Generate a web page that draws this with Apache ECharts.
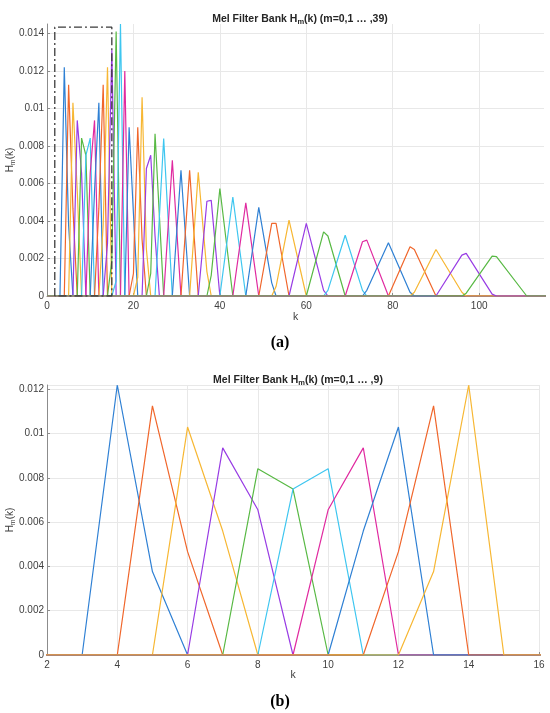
<!DOCTYPE html>
<html>
<head>
<meta charset="utf-8">
<script src="https://cdn.jsdelivr.net/npm/echarts@6/dist/echarts.min.js"></script>
<style>
html,body{margin:0;padding:0;background:#fff;}
#c{width:550px;height:713px;}
</style>
</head>
<body>
<div id="c"></div>
<script>
// ---- data ----
const kFirst = 0;          // first FFT bin drawn
const kLast = 128;         // last FFT bin drawn
const palette = ['#2f80d4', '#f0662b', '#f7b733', '#983ce4', '#58b944', '#3ec6f0', '#e02aa0'];
// vertices [k, H_m(k)] of each filter m = 0..39 (zero elsewhere)
const melVertices = [
  [[3,0],[4,0.0122],[5,0.00377],[6,0]],
  [[4,0],[5,0.01126],[6,0.00467],[7,0]],
  [[5,0],[6,0.0103],[7,0.0056],[8,0]],
  [[6,0],[7,0.00936],[8,0.00656],[9,0]],
  [[7,0],[8,0.00842],[9,0.0075],[10,0]],
  [[8,0],[9,0.0075],[10,0.00842],[11,0]],
  [[9,0],[10,0.00656],[11,0.00936],[12,0]],
  [[10,0],[11,0.0056],[12,0.0103],[13,0]],
  [[11,0],[12,0.00467],[13,0.01126],[14,0]],
  [[12,0],[13,0.00377],[14,0.0122],[15,0]],
  [[13,0],[14,0.0028],[15,0.0131],[16,0]],
  [[14,0],[15,0.0019],[16,0.0141],[17,0]],
  [[15,0],[16,0.0008],[17,0.0145],[18,0]],
  [[17,0],[18,0.012],[19,0]],
  [[18,0],[19,0.009],[20,0.0044],[21,0]],
  [[19,0],[20,0.0012],[21,0.009],[22,0.003],[23,0]],
  [[20,0],[21,0.001],[22,0.0106],[23,0.0025],[24,0]],
  [[22,0],[23,0.0068],[24,0.0075],[25,0.0032],[26,0]],
  [[23,0],[24,0.0012],[25,0.00865],[26,0.0043],[27,0]],
  [[25,0],[26,0.0042],[27,0.0084],[28,0.0042],[29,0]],
  [[27,0],[28,0.0036],[29,0.00723],[30,0.0036],[31,0]],
  [[29,0],[31,0.0067],[33,0]],
  [[31,0],[33,0.0067],[35,0]],
  [[33,0],[35,0.0066],[37,0.0013],[38,0]],
  [[35,0],[37,0.00505],[38,0.0051],[40,0]],
  [[37,0],[38,0.0011],[40,0.00573],[43,0]],
  [[40,0],[43,0.00528],[46,0]],
  [[43,0],[46,0.00496],[49,0]],
  [[46,0],[49,0.00472],[52,0.0007],[53,0]],
  [[49,0],[52,0.00387],[53,0.00387],[56,0]],
  [[52,0],[53,0.0005],[56,0.00404],[60,0]],
  [[56,0],[60,0.00387],[64,0.0003],[65,0]],
  [[60,0],[64,0.00342],[65,0.0032],[69,0]],
  [[64,0],[65,0.0003],[69,0.00324],[73,0.0003],[74,0]],
  [[69,0],[73,0.00289],[74,0.00298],[79,0]],
  [[73,0],[74,0.0003],[79,0.00284],[84,0.0002],[85,0]],
  [[79,0],[84,0.00262],[85,0.00248],[90,0]],
  [[84,0],[85,0.0002],[90,0.00248],[96,0.0002],[97,0]],
  [[90,0],[96,0.00218],[97,0.00227],[103,0.0001],[104,0]],
  [[96,0],[97,0.00015],[103,0.00213],[104,0.0021],[111,0]]
];
const zoomedCount = 10;                       // filters shown in (b)
const zoomBox = [[1.8,0],[1.8,0.01433],[15,0.01433],[15,0],[1.8,0]];
const titleTop = 'Mel Filter Bank H_m(k) (m=0,1 … ,39)';
const titleBottom = 'Mel Filter Bank H_m(k) (m=0,1 … ,9)';

// ---- chart ----
const FONT = 'Liberation Sans, Arial, sans-serif';
const SERIF = 'Liberation Serif, DejaVu Serif, serif';
function richTitle(t){
  const p = t.split('_m');
  return '{b|' + p[0] + '}{s|m}{b|' + p[1] + '}';
}
const titleRich = {
  b:{fontFamily:FONT,fontSize:10.5,fontWeight:'bold',color:'#262626',lineHeight:14},
  s:{fontFamily:FONT,fontSize:7.5,fontWeight:'bold',color:'#262626',lineHeight:8,verticalAlign:'bottom'}
};
const nameRich = {
  b:{fontFamily:FONT,fontSize:10,color:'#404040',lineHeight:14},
  s:{fontFamily:FONT,fontSize:7,color:'#404040',lineHeight:8,verticalAlign:'bottom'}
};
const axisCol = '#8c8c8c';
function xAx(gi,min,max,interval,gap){
  return {gridIndex:gi,type:'value',min:min,max:max,interval:interval,
    name:'k',nameLocation:'middle',nameGap:gap,nameMoveOverlap:false,
    nameTextStyle:{fontFamily:FONT,fontSize:10.5,color:'#404040'},
    axisLine:{show:true,onZero:false,lineStyle:{color:axisCol,width:1}},
    axisTick:{show:true,inside:true,length:3,lineStyle:{color:axisCol}},
    axisLabel:{margin:5,showMaxLabel:gi===1,color:'#404040',fontSize:10,fontFamily:FONT},
    splitLine:{show:true,showMaxLine:gi===1,lineStyle:{color:'#e8e8e8',width:1}}};
}
function yAx(gi,max){
  return {gridIndex:gi,type:'value',min:0,max:max,interval:0.002,
    name:'{b|H}{s|m}{b|(k)}',nameLocation:'middle',nameGap:30,nameMoveOverlap:false,
    nameTextStyle:{rich:nameRich},
    axisLine:{show:true,lineStyle:{color:axisCol,width:1}},
    axisTick:{show:true,inside:true,length:3,lineStyle:{color:axisCol}},
    axisLabel:{margin:3,showMaxLabel:false,color:'#404040',fontSize:10,fontFamily:FONT},
    splitLine:{show:true,showMaxLine:gi===1,lineStyle:{color:'#e8e8e8',width:1}}};
}
const series = [];
function addFilter(m, gi){
  series.push({type:'line',xAxisIndex:gi,yAxisIndex:gi,
    data:[[kFirst,0]].concat(melVertices[m]).concat([[kLast,0]]),
    showSymbol:false,symbol:'none',silent:true,animation:false,
    lineStyle:{color:palette[m % palette.length],width:1.2},
    itemStyle:{color:palette[m % palette.length]},z:2});
}
for(let m=0;m<melVertices.length;m++) addFilter(m,0);
for(let m=0;m<zoomedCount;m++) addFilter(m,1);
series.push({type:'line',xAxisIndex:0,yAxisIndex:0,data:zoomBox,showSymbol:false,symbol:'none',
  silent:true,animation:false,z:5,
  lineStyle:{color:'#3a3a3a',width:1.3,type:[8,3,2,3]}});

const chart = echarts.init(document.getElementById('c'),null,{renderer:'canvas'});
chart.setOption({
  animation:false,
  backgroundColor:'#ffffff',
  title:[
    {text:richTitle(titleTop),left:295,top:7,textAlign:'center',textStyle:{rich:titleRich}},
    {text:richTitle(titleBottom),left:293,top:368,textAlign:'center',textStyle:{rich:titleRich}},
    {text:'{p|(}{l|a}{p|)}',left:275,top:330,textAlign:'center',
      textStyle:{rich:{p:{fontFamily:SERIF,fontSize:16,color:'#000'},l:{fontFamily:SERIF,fontSize:16,fontWeight:'bold',color:'#000'}}}},
    {text:'{p|(}{l|b}{p|)}',left:275,top:689,textAlign:'center',
      textStyle:{rich:{p:{fontFamily:SERIF,fontSize:16,color:'#000'},l:{fontFamily:SERIF,fontSize:16,fontWeight:'bold',color:'#000'}}}}
  ],
  grid:[
    {left:47,top:24,width:497,height:272,containLabel:false,outerBoundsMode:'none'},
    {left:47,top:385,width:492,height:270,containLabel:false,outerBoundsMode:'none'}
  ],
  xAxis:[xAx(0,0,115,20,16), xAx(1,2,16,2,15)],
  yAxis:[yAx(0,0.0145), yAx(1,0.0122)],
  series:series
});
</script>
</body>
</html>
